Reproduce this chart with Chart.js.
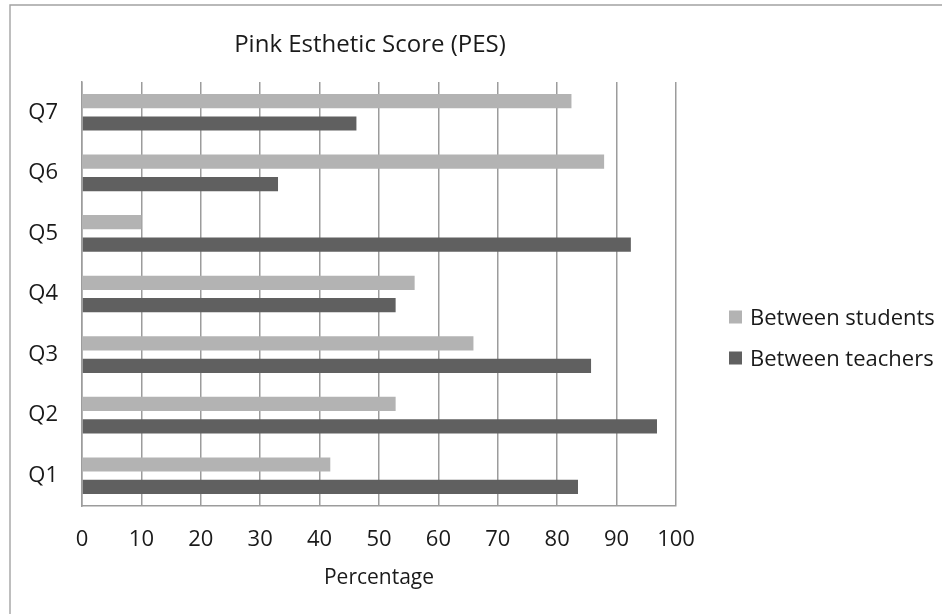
<!DOCTYPE html>
<html>
<head>
<meta charset="utf-8">
<title>Pink Esthetic Score (PES)</title>
<script src="https://cdn.jsdelivr.net/npm/chart.js@4.4.1/dist/chart.umd.min.js"></script>
<style>
  html, body { margin: 0; padding: 0; background: #ffffff; }
  canvas { display: block; }
</style>
</head>
<body>
<canvas id="pes" width="942" height="614"></canvas>
<script>
// Questions, listed top to bottom as they appear on the axis
const categories = ['Q7', 'Q6', 'Q5', 'Q4', 'Q3', 'Q2', 'Q1'];

// Agreement percentages per question
const betweenStudents = [82.4, 87.9, 10.0, 56.0, 65.9, 52.8, 41.8];
const betweenTeachers = [46.2, 33.0, 92.4, 52.8, 85.7, 96.8, 83.5];

const seriesNames = ['Between students', 'Between teachers'];
const seriesColors = ['#b3b3b3', '#606060'];

// Percentage axis ticks
const percentTicks = [0, 10, 20, 30, 40, 50, 60, 70, 80, 90, 100];

const FONT = '"Open Sans", "Noto Sans", sans-serif';
const TEXT = '#1a1a1a';
const RULE = '#9c9c9c';

// Thin frame along the left and top edges of the chart
const framePlugin = {
  id: 'frame',
  beforeDraw(chart) {
    const ctx = chart.ctx;
    ctx.save();
    ctx.strokeStyle = '#a3a3a3';
    ctx.lineWidth = 1.4;
    ctx.beginPath();
    ctx.moveTo(10, chart.height);
    ctx.lineTo(10, 5);
    ctx.lineTo(chart.width, 5);
    ctx.stroke();
    ctx.restore();
  }
};

// Legend to the right of the plot, built from the datasets
const sideLegend = {
  id: 'sideLegend',
  afterDraw(chart) {
    const ctx = chart.ctx;
    const x = chart.chartArea.right + 53;
    ctx.save();
    ctx.font = '22px ' + FONT;
    ctx.textBaseline = 'middle';
    ctx.textAlign = 'left';
    chart.data.datasets.forEach((ds, i) => {
      const y = 310.5 + i * 41;
      ctx.fillStyle = ds.backgroundColor;
      ctx.fillRect(x, y, 13, 13);
      ctx.fillStyle = TEXT;
      ctx.fillText(ds.label, x + 21, y + 8);
    });
    ctx.restore();
  }
};

new Chart(document.getElementById('pes'), {
  type: 'bar',
  data: {
    labels: categories,
    datasets: [
      { label: seriesNames[0], data: betweenStudents, backgroundColor: seriesColors[0] },
      { label: seriesNames[1], data: betweenTeachers, backgroundColor: seriesColors[1] }
    ]
  },
  options: {
    indexAxis: 'y',
    responsive: false,
    animation: false,
    devicePixelRatio: 1,
    categoryPercentage: 0.74,
    barPercentage: 0.635,
    layout: { padding: { left: 0, top: 0, right: 202, bottom: 0 } },
    plugins: {
      legend: { display: false },
      tooltip: { enabled: false },
      title: {
        display: true,
        fullSize: true,
        text: 'Pink Esthetic Score (PES)',
        color: TEXT,
        font: { family: FONT, size: 24, weight: 'normal', lineHeight: 1.2 },
        padding: { top: 31, bottom: 22.2 }
      }
    },
    scales: {
      x: {
        type: 'linear',
        min: percentTicks[0],
        max: percentTicks[percentTicks.length - 1],
        afterBuildTicks(scale) {
          scale.ticks = percentTicks.map(v => ({ value: v }));
        },
        afterFit(scale) { scale.height = 108; },
        grid: { color: RULE, lineWidth: 1.5, drawTicks: false },
        border: { display: true, color: RULE, width: 1.5 },
        ticks: {
          color: TEXT,
          padding: 21,
          maxRotation: 0,
          font: { family: FONT, size: 22 }
        },
        title: {
          display: true,
          text: 'Percentage',
          color: TEXT,
          font: { family: FONT, size: 21, lineHeight: 1.2 },
          padding: { top: 0, bottom: 23 }
        }
      },
      y: {
        afterFit(scale) { scale.width = 82; },
        grid: { display: false, drawTicks: false },
        border: { display: true, color: RULE, width: 1.5 },
        ticks: {
          color: TEXT,
          padding: 24,
          font: { family: FONT, size: 22 }
        }
      },
      // Empty strip on the right that leaves room for the legend
      legendSpace: {
        axis: 'y',
        type: 'category',
        position: 'right',
        grid: { display: false, drawTicks: false },
        border: { display: false },
        ticks: { display: false },
        afterFit(scale) { scale.width = 64; }
      }
    }
  },
  plugins: [framePlugin, sideLegend]
});
</script>
</body>
</html>
